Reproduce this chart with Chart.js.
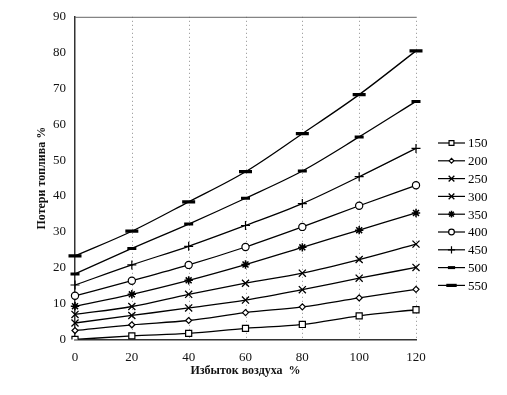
<!DOCTYPE html>
<html>
<head>
<meta charset="utf-8">
<script src="https://cdn.jsdelivr.net/npm/chart.js@4/dist/chart.umd.min.js"></script>
<style>
  html, body { margin: 0; padding: 0; background: #fff; }
  #wrap { width: 507px; height: 395px; position: relative; }
</style>
</head>
<body>
<div id="wrap"><canvas id="c" width="507" height="395"></canvas></div>
<script>
const categories = ['0', '20', '40', '60', '80', '100', '120'];
const seriesNames = ['150', '200', '250', '300', '350', '400', '450', '500', '550'];
const s150 = [0, 1.0, 1.7, 3.1, 4.2, 6.6, 8.3];
const s200 = [2.5, 4.1, 5.3, 7.5, 9.1, 11.6, 14.0];
const s250 = [4.6, 6.7, 8.8, 11.0, 13.9, 17.1, 20.1];
const s300 = [7.0, 9.2, 12.6, 15.7, 18.5, 22.3, 26.6];
const s350 = [9.3, 12.6, 16.5, 20.9, 25.7, 30.5, 35.3];
const s400 = [12.2, 16.4, 20.8, 25.8, 31.4, 37.3, 43.0];
const s450 = [15.2, 20.8, 26.0, 31.8, 37.9, 45.4, 53.3];
const s500 = [18.3, 25.4, 32.2, 39.4, 47.0, 56.5, 66.4];
const s550 = [23.3, 30.2, 38.4, 46.8, 57.4, 68.3, 80.5];
const yTicks = [0, 10, 20, 30, 40, 50, 60, 70, 80, 90];
const xTitle = 'Избыток воздуха  %';
const yTitle = 'Потери топлива %';

const values = [s150, s200, s250, s300, s350, s400, s450, s500, s550];
const markers = [
  { pointStyle: 'rect', radius: 4.3, bw: 1.2, fill: '#fff' },
  { pointStyle: 'rectRot', radius: 3, bw: 1.2, fill: '#fff' },
  { pointStyle: 'crossRot', radius: 5, bw: 1.3, fill: '#fff' },
  { pointStyle: 'crossRot', radius: 5, bw: 1.3, fill: '#fff' },
  { pointStyle: 'star', radius: 4.2, bw: 1.5, fill: '#fff' },
  { pointStyle: 'circle', radius: 3.6, bw: 1.2, fill: '#fff' },
  { pointStyle: 'cross', radius: 4.5, bw: 1.2, fill: '#fff' },
  { pointStyle: 'line', radius: 4.5, bw: 3, fill: '#000' },
  { pointStyle: 'line', radius: 6.5, bw: 3.2, fill: '#000' }
];

const datasets = seriesNames.map((name, i) => ({
  label: name,
  data: values[i],
  borderColor: '#000',
  borderWidth: 1.3,
  backgroundColor: markers[i].fill,
  pointStyle: markers[i].pointStyle,
  pointRadius: markers[i].radius,
  pointBorderWidth: markers[i].bw,
  pointBorderColor: '#000',
  pointBackgroundColor: markers[i].fill,
  cubicInterpolationMode: 'monotone',
  fill: false
}));

const serif = "'Liberation Serif', 'DejaVu Serif', serif";

const frame = {
  id: 'frame',
  beforeDatasetsDraw(chart) {
    const { ctx, chartArea: a } = chart;
    const xs = chart.scales.x;
    ctx.save();
    // dotted vertical grid
    ctx.setLineDash([1, 3]);
    ctx.strokeStyle = 'rgba(0,0,0,0.45)';
    ctx.lineWidth = 1;
    xs.ticks.forEach((t, i) => {
      if (i === 0) return;
      const px = Math.round(xs.getPixelForTick(i)) + 0.5;
      ctx.beginPath();
      ctx.moveTo(px, a.top);
      ctx.lineTo(px, a.bottom);
      ctx.stroke();
    });
    // top border
    ctx.setLineDash([]);
    ctx.strokeStyle = '#666';
    ctx.beginPath();
    ctx.moveTo(a.left, a.top + 0.5);
    ctx.lineTo(a.right, a.top + 0.5);
    ctx.stroke();
    ctx.restore();
  }
};

const legendPlugin = {
  id: 'sideLegend',
  afterDraw(chart) {
    const { ctx } = chart;
    ctx.save();
    const x0 = 438, x1 = 465, tx = 468, y0 = 143, dy = 17.8;
    chart.data.datasets.forEach((ds, i) => {
      const y = y0 + i * dy;
      ctx.strokeStyle = '#000';
      ctx.lineWidth = 1.2;
      ctx.setLineDash([]);
      ctx.beginPath();
      ctx.moveTo(x0, y);
      ctx.lineTo(x1, y);
      ctx.stroke();
      const m = markers[i];
      ctx.fillStyle = m.fill;
      ctx.strokeStyle = '#000';
      ctx.lineWidth = m.bw;
      Chart.helpers.drawPoint(ctx, {
        pointStyle: m.pointStyle,
        radius: m.radius * 0.8,
        rotation: 0,
        borderWidth: m.bw
      }, (x0 + x1) / 2, y);
      ctx.fillStyle = '#000';
      ctx.font = "13px " + serif;
      ctx.textBaseline = 'middle';
      ctx.textAlign = 'left';
      ctx.fillText(ds.label, tx, y + 1);
    });
    ctx.restore();
  }
};

new Chart(document.getElementById('c'), {
  type: 'line',
  data: { labels: categories, datasets },
  options: {
    responsive: false,
    animation: false,
    devicePixelRatio: 1,
    layout: { padding: { left: 0, right: 91, top: 10, bottom: 0 } },
    plugins: {
      legend: { display: false },
      tooltip: { enabled: false }
    },
    scales: {
      x: {
        type: 'category',
        offset: false,
        grid: { display: false, drawTicks: false },
        border: { display: true, color: '#333', width: 1.5 },
        ticks: {
          color: '#111',
          font: { family: serif, size: 13 },
          padding: 10,
          maxRotation: 0
        },
        title: {
          display: true,
          text: xTitle,
          color: '#111',
          font: { family: serif, size: 12, weight: 'bold' },
          padding: { top: 0, bottom: 17 }
        },
        afterFit(scale) { scale.height = 55.5; }
      },
      y: {
        min: 0,
        max: 90,
        afterBuildTicks(scale) { scale.ticks = yTicks.map(v => ({ value: v })); },
        grid: { display: false, drawTicks: false },
        border: { display: true, color: '#333', width: 1.5 },
        ticks: {
          color: '#111',
          font: { family: serif, size: 13 },
          padding: 9
        },
        title: {
          display: true,
          text: yTitle,
          color: '#111',
          font: { family: serif, size: 12, weight: 'bold' },
          padding: { top: 35, bottom: 0 }
        },
        afterFit(scale) { scale.width = 75; }
      }
    }
  },
  plugins: [frame, legendPlugin]
});
</script>
</body>
</html>
